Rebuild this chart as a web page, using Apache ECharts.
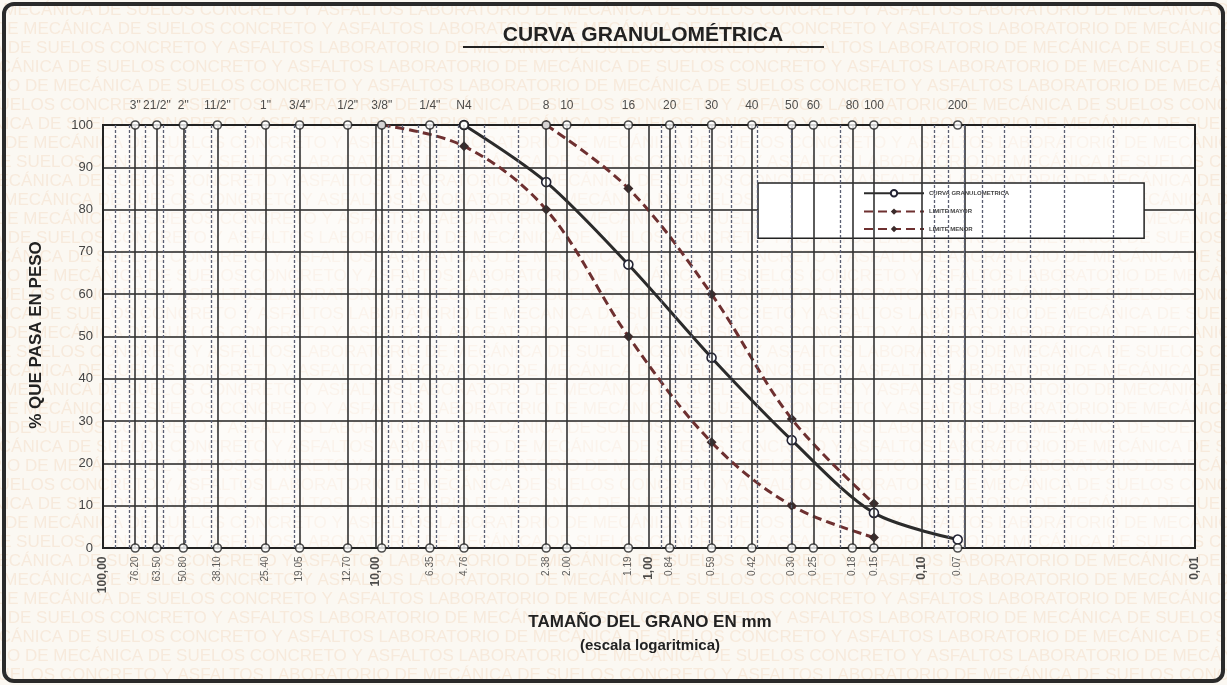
<!DOCTYPE html>
<html>
<head>
<meta charset="utf-8">
<script src="https://cdn.jsdelivr.net/npm/echarts@6/dist/echarts.min.js"></script>
<style>
html, body { margin: 0; padding: 0; background: #fbf8f2; }
#chart { width: 1227px; height: 685px; }
</style>
</head>
<body>
<div id="chart"></div>
<script>
// sieves (name on top, opening in mm)
var sieveNames = ['3"', '21/2"', '2"', '11/2"', '1"', '3/4"', '1/2"', '3/8"', '1/4"', 'N4', '8', '10', '16', '20', '30', '40', '50', '60', '80', '100', '200'];
var sieveSizes = [76.2, 63.5, 50.8, 38.1, 25.4, 19.05, 12.7, 9.53, 6.35, 4.76, 2.38, 2.0, 1.19, 0.84, 0.59, 0.42, 0.30, 0.25, 0.18, 0.15, 0.074];

// rotated labels under the axis
var bottomSizes = [100, 76.2, 63.5, 50.8, 38.1, 25.4, 19.05, 12.7, 10, 6.35, 4.76, 2.38, 2.0, 1.19, 1.0, 0.84, 0.59, 0.42, 0.30, 0.25, 0.18, 0.15, 0.10, 0.074, 0.01];
var bottomText = ['100,00', '76.20', '63.50', '50.80', '38.10', '25.40', '19.05', '12.70', '10,00', '6.35', '4.76', '2.38', '2.00', '1.19', '1,00', '0.84', '0.59', '0.42', '0.30', '0.25', '0.18', '0.15', '0,10', '0.07', '0,01'];
var boldText = ['100,00', '10,00', '1,00', '0,10', '0,01'];

// log grid
var decadeSizes = [10, 1, 0.1];
var minorSizes = [90, 80, 70, 60, 50, 40, 30, 20, 9, 8, 7, 6, 5, 4, 3, 0.9, 0.8, 0.7, 0.6, 0.5, 0.4, 0.3, 0.2, 0.09, 0.08, 0.07, 0.06, 0.05, 0.04, 0.03, 0.02];

// curves
var mainSizes = [4.76, 2.38, 1.19, 0.59, 0.30, 0.15, 0.074];
var mainPass = [100, 86.5, 67, 45, 25.5, 8.3, 2];
var upperSizes = [2.38, 1.19, 0.59, 0.30, 0.15];
var upperPass = [100, 85, 60, 30.5, 10.5];
var lowerSizes = [9.53, 4.76, 2.38, 1.19, 0.59, 0.30, 0.15];
var lowerPass = [100, 95, 80, 50, 25, 10, 2.5];

var wmText = 'LABORATORIO DE MECÁNICA DE SUELOS CONCRETO Y ASFALTOS ';

function pairs (xs, ys) {
  var out = [];
  for (var i = 0; i < xs.length; i++) out.push([xs[i], ys[i]]);
  return out;
}

var myChart = echarts.init(document.getElementById('chart'));

var topPoints = sieveSizes.map(function (s, i) {
  return { value: [s, 100], name: sieveNames[i] };
});
var bottomPoints = sieveSizes.map(function (s) { return [s, 0]; });

var bottomLabelData = bottomSizes.map(function (s, i) {
  var isBold = boldText.indexOf(bottomText[i]) >= 0;
  return {
    value: [s, 0],
    name: bottomText[i],
    label: isBold ? { fontWeight: 'bold', fontSize: 12, color: '#222' } : {}
  };
});

var sieveLines = sieveSizes.concat(decadeSizes).map(function (s) { return { xAxis: s }; });
var minorLines = minorSizes.map(function (s) { return { xAxis: s }; });

// watermark rows
var wm = [];
var offsets = [-60, -40, -150, -90, -10, -200, -120, -30, -170, -80];
for (var r = 0; r < 36; r++) {
  wm.push({
    type: 'text',
    z: -10,
    x: offsets[r % offsets.length],
    y: 2 + r * 19,
    style: {
      text: 'RIO DE MECÁNICA DE SUELOS CONCRETO Y ASFALTOS ' + wmText + wmText,
      font: '17px "Liberation Sans", Arial',
      fill: 'rgba(232,160,105,0.16)'
    }
  });
}

var option = {
  backgroundColor: '#fbf8f2',
  animation: false,
  grid: {
    left: 103,
    right: 32,
    top: 125,
    bottom: 137,
    show: true,
    borderColor: '#222',
    borderWidth: 2,
    backgroundColor: 'rgba(255,255,255,0.45)'
  },
  xAxis: {
    type: 'log',
    logBase: 10,
    min: 0.01,
    max: 100,
    inverse: true,
    axisLine: { show: true, lineStyle: { color: '#222', width: 2 } },
    axisTick: { show: false },
    axisLabel: { show: false },
    splitLine: { show: false },
    minorSplitLine: { show: false }
  },
  yAxis: {
    type: 'value',
    min: 0,
    max: 100,
    interval: 10,
    axisLine: { show: true, lineStyle: { color: '#222', width: 2 } },
    axisTick: { show: false },
    axisLabel: { fontSize: 13, color: '#444', margin: 10, fontFamily: 'Liberation Sans, Arial' },
    splitLine: { lineStyle: { color: '#222', width: 1.5 } }
  },
  legend: {
    orient: 'vertical',
    left: 758,
    top: 183,
    itemWidth: 60,
    itemHeight: 8,
    itemGap: 11,
    padding: [6, 135, 6, 105],
    backgroundColor: '#fff',
    borderColor: '#222',
    borderWidth: 1.5,
    borderRadius: 0,
    data: ['CURVA GRANULOMETRICA', 'LIMITE MAYOR', 'LIMITE MENOR'],
    textStyle: { fontSize: 6, fontWeight: 'bold', color: '#444', fontFamily: 'Liberation Sans, Arial' }
  },
  graphic: wm.concat([
    {
      type: 'rect',
      z: 100,
      shape: { x: 4, y: 4, width: 1219, height: 677, r: 10 },
      style: { fill: 'none', stroke: '#2a2a2a', lineWidth: 4 }
    },
    {
      type: 'text',
      z: 100,
      x: 643,
      y: 35,
      style: {
        text: 'CURVA GRANULOMÉTRICA',
        font: 'bold 21px "Liberation Sans", Arial',
        fill: '#222',
        textAlign: 'center',
        textVerticalAlign: 'middle'
      }
    },
    {
      type: 'line',
      z: 100,
      shape: { x1: 463, y1: 47, x2: 824, y2: 47 },
      style: { stroke: '#222', lineWidth: 2 }
    },
    {
      type: 'text',
      z: 100,
      x: 36,
      y: 335,
      rotation: Math.PI / 2,
      style: {
        text: '% QUE PASA EN PESO',
        font: 'bold 17px "Liberation Sans", Arial',
        fill: '#222',
        textAlign: 'center',
        textVerticalAlign: 'middle'
      }
    },
    {
      type: 'text',
      z: 100,
      x: 650,
      y: 622,
      style: {
        text: 'TAMAÑO DEL GRANO EN mm',
        font: 'bold 17px "Liberation Sans", Arial',
        fill: '#222',
        textAlign: 'center',
        textVerticalAlign: 'middle'
      }
    },
    {
      type: 'text',
      z: 100,
      x: 650,
      y: 646,
      style: {
        text: '(escala logaritmica)',
        font: 'bold 15px "Liberation Sans", Arial',
        fill: '#222',
        textAlign: 'center',
        textVerticalAlign: 'middle'
      }
    }
  ]),
  series: [
    {
      name: 'sieveLines',
      type: 'scatter',
      data: [],
      silent: true,
      z: 1,
      markLine: {
        silent: true,
        symbol: 'none',
        label: { show: false },
        lineStyle: { color: '#333', width: 1.6, type: 'solid' },
        data: sieveLines
      }
    },
    {
      name: 'minorLines',
      type: 'scatter',
      data: [],
      silent: true,
      z: 1,
      markLine: {
        silent: true,
        symbol: 'none',
        label: { show: false },
        lineStyle: { color: '#5a5f73', width: 1.3, type: [3, 2] },
        data: minorLines
      }
    },
    {
      name: 'LIMITE MENOR',
      type: 'line',
      data: pairs(lowerSizes, lowerPass),
      smooth: 0.35,
      z: 3,
      symbol: 'diamond',
      symbolSize: 10,
      itemStyle: { color: '#3b2b2b' },
      lineStyle: { color: '#6e3030', width: 3, type: [9, 5] }
    },
    {
      name: 'LIMITE MAYOR',
      type: 'line',
      data: pairs(upperSizes, upperPass),
      smooth: 0.35,
      z: 3,
      symbol: 'diamond',
      symbolSize: 10,
      itemStyle: { color: '#3b2b2b' },
      lineStyle: { color: '#6e3030', width: 3, type: [9, 5] }
    },
    {
      name: 'CURVA GRANULOMETRICA',
      type: 'line',
      data: pairs(mainSizes, mainPass),
      smooth: 0.3,
      z: 4,
      symbol: 'circle',
      symbolSize: 9,
      itemStyle: { color: '#fff', borderColor: '#223', borderWidth: 1.6 },
      lineStyle: { color: '#2b2b2b', width: 3 }
    },
    {
      name: 'sieveTop',
      type: 'scatter',
      data: topPoints,
      z: 5,
      symbol: 'circle',
      symbolSize: 8,
      itemStyle: { color: '#fff', borderColor: '#222', borderWidth: 1.6 },
      label: {
        show: true,
        position: 'top',
        distance: 9,
        formatter: function (p) { return p.name; },
        fontSize: 12,
        color: '#222',
        fontFamily: 'Liberation Sans, Arial'
      }
    },
    {
      name: 'sieveBottom',
      type: 'scatter',
      data: bottomPoints,
      z: 5,
      symbol: 'circle',
      symbolSize: 8,
      itemStyle: { color: '#fff', borderColor: '#222', borderWidth: 1.6 }
    },
    {
      name: 'bottomLabels',
      type: 'scatter',
      data: bottomLabelData,
      z: 5,
      symbolSize: 1,
      itemStyle: { color: 'rgba(0,0,0,0)' },
      label: {
        show: true,
        position: 'bottom',
        distance: 8,
        rotate: 90,
        align: 'right',
        verticalAlign: 'middle',
        formatter: function (p) { return p.name; },
        fontSize: 10,
        color: '#333',
        fontFamily: 'Liberation Sans, Arial'
      }
    }
  ]
};

myChart.setOption(option);

window.addEventListener('resize', function () {
  myChart.resize();
});
</script>
</body>
</html>
